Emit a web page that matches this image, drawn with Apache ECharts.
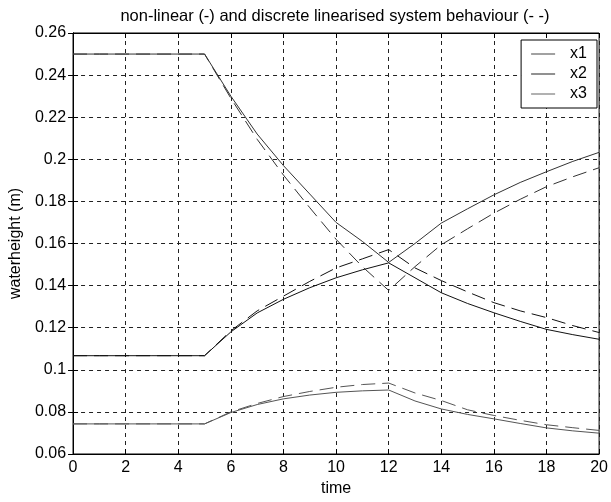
<!DOCTYPE html>
<html>
<head>
<meta charset="utf-8">
<script src="https://cdn.jsdelivr.net/npm/echarts@6/dist/echarts.min.js"></script>
<style>
html,body{margin:0;padding:0;background:#fff;}
#chart{width:611px;height:502px;}
</style>
</head>
<body>
<div id="chart"></div>
<script>
var time = [0,1,2,3,4,5,6,7,8,9,10,11,12,13,14,15,16,17,18,19,20];
var x1NonLinear = [0.25,0.25,0.25,0.25,0.25,0.25,0.230,0.212,0.197,0.1835,0.170,0.161,0.151,0.160,0.1697,0.1765,0.1831,0.189,0.1941,0.199,0.2033];
var x1Linear    = [0.25,0.25,0.25,0.25,0.25,0.25,0.229,0.2095,0.1925,0.177,0.162,0.149,0.1377,0.149,0.1594,0.167,0.1744,0.181,0.187,0.1917,0.196];
var x2NonLinear = [0.1067,0.1067,0.1067,0.1067,0.1067,0.1067,0.118,0.127,0.1335,0.139,0.1437,0.1475,0.1508,0.1437,0.1366,0.1315,0.1271,0.123,0.1192,0.1167,0.1145];
var x2Linear    = [0.1067,0.1067,0.1067,0.1067,0.1067,0.1067,0.1185,0.128,0.135,0.142,0.1484,0.1527,0.1571,0.1484,0.1424,0.137,0.1319,0.128,0.1248,0.121,0.1177];
var x3NonLinear = [0.0743,0.0743,0.0743,0.0743,0.0743,0.0743,0.0797,0.0835,0.0862,0.088,0.0893,0.090,0.0904,0.0852,0.0814,0.0788,0.0767,0.0745,0.0724,0.071,0.0699];
var x3Linear    = [0.0743,0.0743,0.0743,0.0743,0.0743,0.0743,0.080,0.084,0.0873,0.0897,0.0917,0.093,0.0937,0.089,0.0854,0.081,0.0783,0.076,0.0739,0.0725,0.0712];
var seriesNames = ['x1','x2','x3'];

function pairs(ys){ return time.map(function(t,i){ return [t, ys[i]]; }); }

var colors = ['#333','#111','#555'];
var font = 'Liberation Sans, Arial, sans-serif';

var chart = echarts.init(document.getElementById('chart'));
var dash = [14,7];
function lineSeries(name, ys, color, dashed){
  return {
    name: name, type: 'line', data: pairs(ys), symbol: 'none', smooth: false,
    xAxisIndex: 0, yAxisIndex: 0,
    lineStyle: {color: color, width: 1, type: dashed ? dash : 'solid'},
    itemStyle: {color: color},
    emphasis: {disabled: true}, animation: false, z: 3
  };
}
var legendIcon = 'path://M0,0 L26,0 L26,1 L0,1 Z';
var tickOnly = {
  axisLine: {show: true, lineStyle: {color: '#000'}},
  axisTick: {show: true, inside: true, length: 5, lineStyle: {color: '#000'}},
  axisLabel: {show: false}, splitLine: {show: false}
};
var option = {
  animation: false,
  backgroundColor: '#fff',
  textStyle: {fontFamily: font},
  title: {
    text: 'non-linear (-) and discrete linearised system behaviour (- -)',
    left: 330, textAlign: 'center', top: 3,
    textStyle: {fontSize: 16.5, fontWeight: 'normal', color: '#000', fontFamily: font}
  },
  legend: {
    data: seriesNames.map(function(n){ return {name: n, icon: legendIcon}; }),
    orient: 'vertical', right: 14, top: 40,
    backgroundColor: '#fff', borderColor: '#000', borderWidth: 1,
    padding: [6, 10, 6, 10], itemGap: 4, itemWidth: 24, itemHeight: 1,
    textStyle: {fontSize: 16, color: '#000', fontFamily: font, padding: [0,0,0,10]},
    z: 10
  },
  grid: {left: 65, right: 7, top: 33, bottom: 41, show: true, borderColor: '#000', borderWidth: 1, backgroundColor: 'transparent'},
  xAxis: [{
    type: 'value', min: 0, max: 20, interval: 2, position: 'bottom',
    name: 'time', nameLocation: 'middle', nameGap: 27,
    nameTextStyle: {fontSize: 16, color: '#000', fontFamily: font},
    axisLine: {show: true, lineStyle: {color: '#000'}},
    axisTick: {show: true, inside: true, length: 5, lineStyle: {color: '#000'}},
    axisLabel: {fontSize: 16, color: '#000', margin: 6, fontFamily: font},
    splitLine: {show: true, lineStyle: {color: '#222', type: [4,4], width: 1}}
  }, Object.assign({type: 'value', min: 0, max: 20, interval: 2, position: 'top'}, tickOnly)],
  yAxis: [{
    type: 'value', min: 0.06, max: 0.26, interval: 0.02, position: 'left',
    name: 'waterheight (m)', nameLocation: 'middle', nameGap: 42,
    nameTextStyle: {fontSize: 16, color: '#000', fontFamily: font},
    axisLine: {show: true, lineStyle: {color: '#000'}},
    axisTick: {show: true, inside: true, length: 5, lineStyle: {color: '#000'}},
    axisLabel: {fontSize: 16, color: '#000', margin: 7, fontFamily: font,
      formatter: function(v){ return String(+(+v).toFixed(2)); }},
    splitLine: {show: true, lineStyle: {color: '#222', type: [4,4], width: 1}}
  }, Object.assign({type: 'value', min: 0.06, max: 0.26, interval: 0.02, position: 'right'}, tickOnly)],
  series: [
    lineSeries('x1', x1NonLinear, colors[0], false),
    lineSeries('x2', x2NonLinear, colors[1], false),
    lineSeries('x3', x3NonLinear, colors[2], false),
    lineSeries('x1 lin', x1Linear, colors[0], true),
    lineSeries('x2 lin', x2Linear, colors[1], true),
    lineSeries('x3 lin', x3Linear, colors[2], true)
  ]
};
chart.setOption(option);
</script>
</body>
</html>
